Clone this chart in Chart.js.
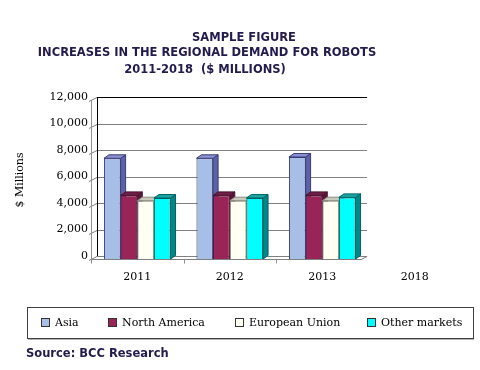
<!DOCTYPE html>
<html>
<head>
<meta charset="utf-8">
<script src="https://cdn.jsdelivr.net/npm/chart.js@4"></script>
<style>
  html, body { margin: 0; padding: 0; background: #fff; }
  #c { display: block; }
</style>
</head>
<body>
<canvas id="c" width="480" height="370"></canvas>
<script>
const categories = ['2011', '2012', '2013', '2018']
const asia = [7600, 7600, 7700, null]
const northAmerica = [4800, 4800, 4800, null]
const europeanUnion = [4400, 4400, 4400, null]
const otherMarkets = [4600, 4600, 4650, null]
const yTicks = [0, 2000, 4000, 6000, 8000, 10000, 12000]

const titleLines = [
  ['SAMPLE FIGURE', 244, 38],
  ['INCREASES IN THE REGIONAL DEMAND FOR ROBOTS', 207, 53.5],
  ['2011-2018  ($ MILLIONS)', 205, 70]
]
const navy = '#231b4e'
const serif = '"DejaVu Serif", serif'
const sans = '"DejaVu Sans", Verdana, sans-serif'

// front / top / side / edge colour for each series
const looks = [
  { front: '#a7bee6', top: '#8a90d0', side: '#5c62a6', edge: '#3a3c78' },
  { front: '#992457', top: '#6e1f46', side: '#5a1636', edge: '#4a1030' },
  { front: '#fffff2', top: '#c9c9bd', side: '#deded2', edge: '#8a8a80' },
  { front: '#00ffff', top: '#1aa5a5', side: '#008888', edge: '#006060' }
]

const WALL_DX = 6
const WALL_DY = 3
const BAR_DX = 5
const BAR_DY = 3.5

function line(ctx, x1, y1, x2, y2, color) {
  ctx.strokeStyle = color
  ctx.beginPath()
  ctx.moveTo(x1, y1)
  ctx.lineTo(x2, y2)
  ctx.stroke()
}

function poly(ctx, pts, fill, stroke) {
  ctx.beginPath()
  ctx.moveTo(pts[0][0], pts[0][1])
  pts.slice(1).forEach(p => ctx.lineTo(p[0], p[1]))
  ctx.closePath()
  ctx.fillStyle = fill
  ctx.fill()
  ctx.strokeStyle = stroke
  ctx.stroke()
}

const box3d = {
  id: 'box3d',
  beforeDatasetsDraw(chart) {
    const ctx = chart.ctx
    const { left, right, top, bottom } = chart.chartArea
    const y = chart.scales.y
    const catW = (right - left) / categories.length
    const floorRight = left + (right - left) * 0.73
    ctx.save()
    ctx.lineWidth = 1

    // back wall gridlines + side wall ticks
    yTicks.forEach(v => {
      const py = Math.round(y.getPixelForValue(v)) + 0.5
      const col = v === 12000 ? '#000' : '#808080'
      line(ctx, left + WALL_DX, py - WALL_DY, floorRight + WALL_DX, py - WALL_DY, col)
      line(ctx, left - 2, py + 1, left + WALL_DX, py - WALL_DY, '#808080')
    })
    line(ctx, left + WALL_DX + 0.5, top - WALL_DY, left + WALL_DX + 0.5, bottom - WALL_DY, '#000')
    line(ctx, left + 0.5, top, left + 0.5, bottom, '#909090')

    // floor
    const fy = Math.round(bottom) + 0.5
    line(ctx, left, fy, floorRight, fy, '#808080')
    line(ctx, floorRight, fy, floorRight + WALL_DX, fy - WALL_DY, '#808080')
    for (let k = 0; k < 3; k++) {
      const px = Math.round(left + k * catW) + 0.5
      line(ctx, px, fy, px, fy + 4, '#909090')
    }

    // bar depth faces
    chart.data.datasets.forEach((ds, i) => {
      const lk = looks[i]
      chart.getDatasetMeta(i).data.forEach((el, j) => {
        if (ds.data[j] == null) return
        const p = el.getProps(['x', 'y', 'base', 'width'], true)
        const l = p.x - p.width / 2
        const r = p.x + p.width / 2
        poly(ctx, [[r, p.y], [r + BAR_DX, p.y - BAR_DY], [r + BAR_DX, p.base - BAR_DY], [r, p.base]], lk.side, lk.edge)
        poly(ctx, [[l, p.y], [l + BAR_DX, p.y - BAR_DY], [r + BAR_DX, p.y - BAR_DY], [r, p.y]], lk.top, lk.edge)
      })
    })
    ctx.restore()
  },
  afterDraw(chart) {
    const ctx = chart.ctx
    ctx.save()

    ctx.fillStyle = navy
    ctx.font = 'bold 11.5px ' + sans
    ctx.textAlign = 'center'
    ctx.textBaseline = 'middle'
    titleLines.forEach(t => ctx.fillText(t[0], t[1], t[2]))

    // y axis title
    ctx.save()
    ctx.translate(20, 180)
    ctx.rotate(-Math.PI / 2)
    ctx.fillStyle = '#000'
    ctx.font = '11px ' + serif
    ctx.fillText('$ Millions', 0, 0)
    ctx.restore()

    // legend
    ctx.lineWidth = 1
    ctx.strokeStyle = '#404040'
    ctx.strokeRect(27.5, 307.5, 446, 31)
    line(ctx, 28, 339.5, 474, 339.5, '#b0b0b0')
    const swatchX = [41, 108, 235, 367]
    ctx.font = '11px ' + serif
    ctx.textAlign = 'left'
    chart.data.datasets.forEach((ds, i) => {
      ctx.fillStyle = looks[i].front
      ctx.fillRect(swatchX[i], 318, 8, 8)
      ctx.strokeStyle = '#333'
      ctx.strokeRect(swatchX[i] + 0.5, 318.5, 8, 8)
      ctx.fillStyle = '#000'
      ctx.fillText(ds.label, swatchX[i] + 14, 323)
    })

    ctx.fillStyle = navy
    ctx.font = 'bold 11.5px ' + sans
    ctx.fillText('Source: BCC Research', 26, 354)
    ctx.restore()
  }
}

const series = [
  ['Asia', asia],
  ['North America', northAmerica],
  ['European Union', europeanUnion],
  ['Other markets', otherMarkets]
]

const chart = new Chart(document.getElementById('c'), {
  type: 'bar',
  data: {
    labels: categories,
    datasets: series.map((s, i) => ({
      label: s[0],
      data: s[1],
      backgroundColor: looks[i].front,
      borderColor: looks[i].edge,
      borderWidth: 1,
      categoryPercentage: 0.72,
      barPercentage: 1
    }))
  },
  options: {
    responsive: false,
    animation: false,
    layout: { padding: { top: 100, right: 19, left: 0, bottom: 0 } },
    plugins: {
      legend: { display: false },
      tooltip: { enabled: false }
    },
    scales: {
      x: {
        grid: { display: false, drawTicks: false },
        border: { display: false },
        ticks: { color: '#000', font: { family: serif, size: 11 }, padding: 12, maxRotation: 0, autoSkip: false },
        afterFit: s => { s.height = 111 }
      },
      y: {
        min: 0,
        max: 12000,
        grid: { display: false, drawTicks: false },
        border: { display: false },
        ticks: {
          stepSize: 2000,
          padding: 3,
          labelOffset: -3,
          color: '#000',
          font: { family: serif, size: 11 },
          callback: v => v.toLocaleString('en-US')
        },
        afterFit: s => { s.width = 91 }
      }
    }
  },
  plugins: [box3d]
})
</script>
</body>
</html>
